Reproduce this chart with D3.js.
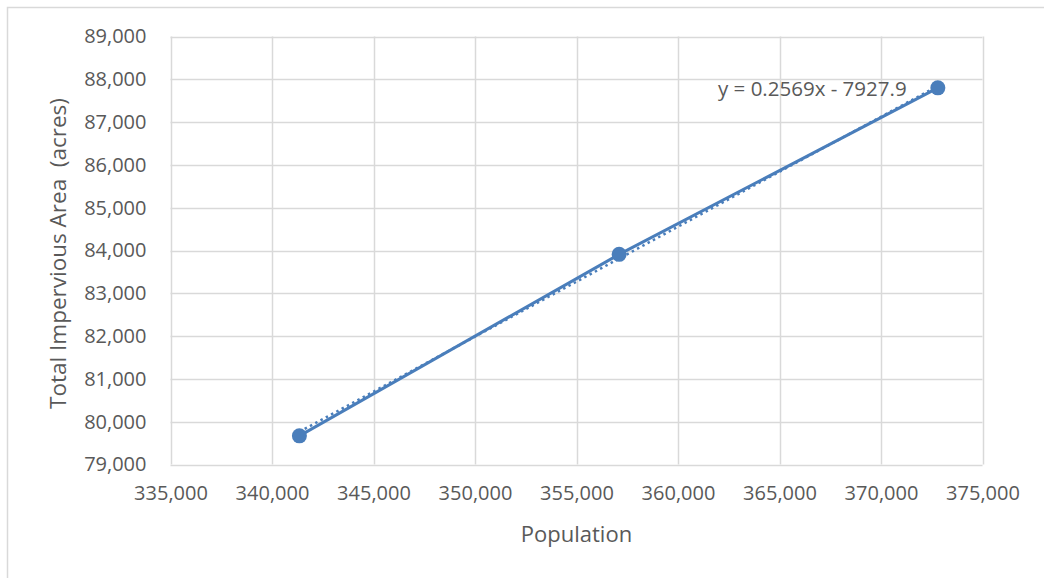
<!DOCTYPE html>
<html>
<head>
<meta charset="utf-8">
<script src="https://cdn.jsdelivr.net/npm/d3@7"></script>
<style>
  html, body { margin: 0; padding: 0; background: #fff; }
  svg { display: block; }
  text { font-family: "Open Sans", "Noto Sans", sans-serif; fill: #595959; white-space: pre; }
</style>
</head>
<body>
<svg id="chart" width="1044" height="578"></svg>
<script>
// ---- data ----
const population = [341350, 357100, 372800];
const imperviousArea = [79670, 83910, 87800];
const xTicks = [335000, 340000, 345000, 350000, 355000, 360000, 365000, 370000, 375000];
const yTicks = [79000, 80000, 81000, 82000, 83000, 84000, 85000, 86000, 87000, 88000, 89000];
const trendSlope = [0.2569];
const trendIntercept = [-7927.9];
const equationLabel = ["y = 0.2569x - 7927.9"];
const xTitle = ["Population"];
const yTitle = ["Total Impervious Area  (acres)"];

// ---- layout ----
const svg = d3.select("#chart");
const plot = { left: 170.5, right: 982.5, top: 36.5, bottom: 464.5 };
const color = "#4a7ebb";
const gridColor = "#d9d9d9";

// outer chart border
svg.append("rect").attr("x", 7.5).attr("y", 7.5).attr("width", 1100).attr("height", 700)
  .attr("fill", "none").attr("stroke", gridColor).attr("stroke-width", 1.5);

const x = d3.scaleLinear().domain([xTicks[0], xTicks[xTicks.length - 1]]).range([plot.left, plot.right]);
const y = d3.scaleLinear().domain([yTicks[0], yTicks[yTicks.length - 1]]).range([plot.bottom, plot.top]);

// gridlines
svg.append("g").selectAll("line").data(yTicks).join("line")
  .attr("x1", plot.left).attr("x2", plot.right)
  .attr("y1", d => Math.round(y(d)) + 0.5).attr("y2", d => Math.round(y(d)) + 0.5)
  .attr("stroke", gridColor).attr("stroke-width", 1.5);
svg.append("g").selectAll("line").data(xTicks).join("line")
  .attr("y1", plot.top).attr("y2", plot.bottom)
  .attr("x1", d => Math.round(x(d)) + 0.5).attr("x2", d => Math.round(x(d)) + 0.5)
  .attr("stroke", gridColor).attr("stroke-width", 1.5);

const fmt = d3.format(",");

// axes via d3 (no domain lines)
const yAxis = svg.append("g").attr("transform", `translate(${plot.left},0)`)
  .call(d3.axisLeft(y).tickValues(yTicks).tickFormat(fmt).tickSize(0).tickPadding(24));
yAxis.select(".domain").remove();
yAxis.selectAll("text").attr("font-size", 20).style("font-family", '"Open Sans", sans-serif').attr("fill", "#595959");

const xAxis = svg.append("g").attr("transform", `translate(0,${plot.bottom})`)
  .call(d3.axisBottom(x).tickValues(xTicks).tickFormat(fmt).tickSize(0).tickPadding(21));
xAxis.select(".domain").remove();
xAxis.selectAll("text").attr("font-size", 20).style("font-family", '"Open Sans", sans-serif').attr("fill", "#595959");

// data line
const pts = population.map((p, i) => [p, imperviousArea[i]]);
svg.append("path").datum(pts)
  .attr("fill", "none").attr("stroke", color).attr("stroke-width", 3)
  .attr("d", d3.line().x(d => x(d[0])).y(d => y(d[1])));

// trendline (dotted) from equation over data range
const xr = d3.extent(population);
const trend = xr.map(v => [v, trendSlope[0] * v + trendIntercept[0]]);
svg.append("path").datum(trend)
  .attr("fill", "none").attr("stroke", color).attr("stroke-width", 2.5)
  .attr("stroke-dasharray", "2.5,3.5")
  .attr("d", d3.line().x(d => x(d[0])).y(d => y(d[1])));

// markers
svg.append("g").selectAll("circle").data(pts).join("circle")
  .attr("cx", d => x(d[0])).attr("cy", d => y(d[1])).attr("r", 7.5)
  .attr("fill", color);

// equation label
svg.append("text").attr("x", 718).attr("y", 96).attr("font-size", 20.5).text(equationLabel[0]);

// axis titles
svg.append("text").attr("x", (plot.left + plot.right) / 2).attr("y", 542)
  .attr("text-anchor", "middle").attr("font-size", 22).text(xTitle[0]);
svg.append("text").attr("transform", `translate(66,${(plot.top + plot.bottom) / 2 + 3}) rotate(-90)`)
  .attr("text-anchor", "middle").attr("font-size", 22.5).text(yTitle[0]);
</script>
</body>
</html>
